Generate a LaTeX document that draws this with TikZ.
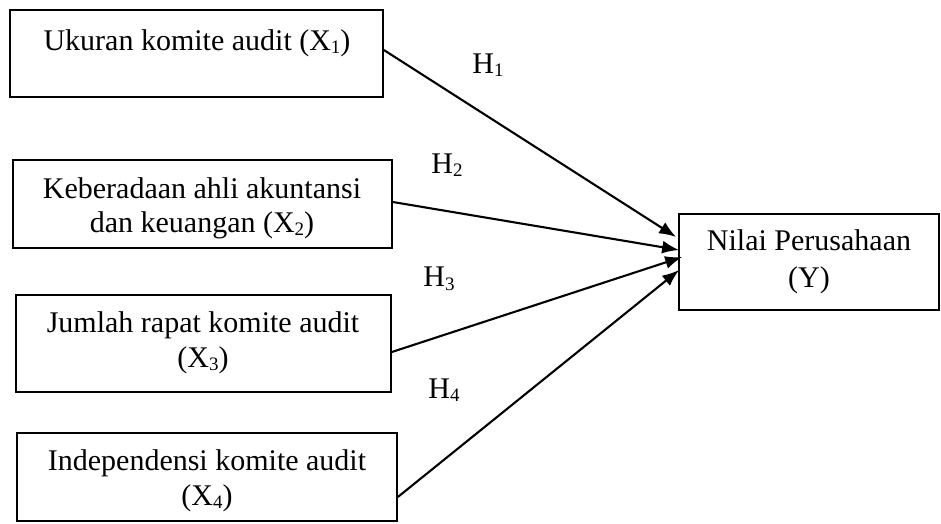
\documentclass[tikz,border=0pt]{standalone}
\usepackage{fontspec}
\setmainfont{Liberation Serif}
\usetikzlibrary{arrows.meta,positioning}
\newcommand{\sbx}[1]{\raisebox{-0.12em}{\fontsize{19}{19}\selectfont #1}}
\begin{document}
\begin{tikzpicture}[x=1pt,y=-1pt,
  box/.style={draw,line width=1.7pt,inner sep=0pt},
  lbl/.style={font=\fontsize{30}{35}\selectfont,align=center,anchor=base,inner sep=0pt},
  hyp/.style={font=\fontsize{30}{35}\selectfont,inner sep=0pt},
  arr/.style={line width=2.1pt,-{Latex[length=17pt,width=13pt]}}]
\useasboundingbox (0,0) rectangle (941,523);
% boxes
\node[box,minimum width=373pt,minimum height=87pt] (b1) at (196.5,53.5) {};
\node[box,minimum width=379pt,minimum height=88pt] (b2) at (202.5,204) {};
\node[box,minimum width=375pt,minimum height=97pt] (b3) at (203.5,343.5) {};
\node[box,minimum width=380pt,minimum height=88pt] (b4) at (207,477) {};
\node[box,minimum width=260pt,minimum height=96pt] (y) at (809,262) {};
% texts
\node[lbl] (t1) at (197,50) {Ukuran komite audit (X\sbx{1})};
\node[lbl] (t2a) at (202,198) {Keberadaan ahli akuntansi};
\node[lbl] (t2b) at (202,232) {dan keuangan (X\sbx{2})};
\node[lbl] (t3a) at (203,332) {Jumlah rapat komite audit};
\node[lbl] (t3b) at (203,367) {(X\sbx{3})};
\node[lbl] (t4a) at (207,470) {Independensi komite audit};
\node[lbl] (t4b) at (207,505) {(X\sbx{4})};
\node[lbl] (ya) at (809,250) {Nilai Perusahaan};
\node[lbl] (yb) at (809,287) {(Y)};
% hypothesis labels
\node[hyp] (h1) at (488,65) {H\sbx{1}};
\node[hyp] (h2) at (447,165) {H\sbx{2}};
\node[hyp] (h3) at (439,279) {H\sbx{3}};
\node[hyp] (h4) at (444,390) {H\sbx{4}};
% arrows
\draw[arr] ([yshift=3.5pt]b1.east) -- ([xshift=-2pt,yshift=25pt]y.west);
\draw[arr] ([yshift=2pt]b2.east) -- ([xshift=1pt,yshift=12pt]y.west);
\draw[arr] ([yshift=-8.5pt]b3.east) -- ([xshift=4pt,yshift=5pt]y.west);
\draw[arr] ([yshift=-20pt]b4.east) -- ([xshift=1pt,yshift=-8pt]y.west);
\end{tikzpicture}
\end{document}
